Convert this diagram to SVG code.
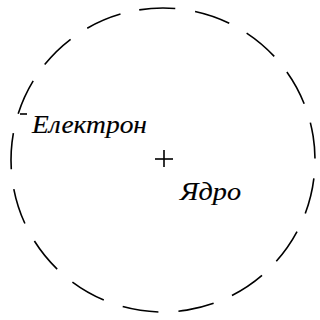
<svg xmlns="http://www.w3.org/2000/svg" width="320" height="320" viewBox="0 0 320 320">
<style>
.lbl{font-family:"Liberation Serif","DejaVu Serif",serif;font-style:italic;font-size:25px;fill:#000;stroke:#000;stroke-width:0.15}
.ln{stroke:#000;stroke-width:1.6;fill:none}
</style>
<rect width="320" height="320" fill="#fff"/>
<g id="orbit">
<circle cx="163" cy="160" r="152" class="ln" stroke-dasharray="36.2 20" transform="rotate(-99 163 160)"/>
</g>
<g id="electron">
<line x1="20" y1="114" x2="27" y2="114" class="ln" stroke-width="2"/>
<text x="32" y="133" class="lbl" textLength="115" lengthAdjust="spacingAndGlyphs">Електрон</text>
</g>
<g id="nucleus">
<line x1="155" y1="159" x2="173" y2="159" class="ln"/>
<line x1="164" y1="150" x2="164" y2="167" class="ln"/>
<text x="180" y="200" class="lbl" textLength="61" lengthAdjust="spacingAndGlyphs">Ядро</text>
</g>
</svg>
